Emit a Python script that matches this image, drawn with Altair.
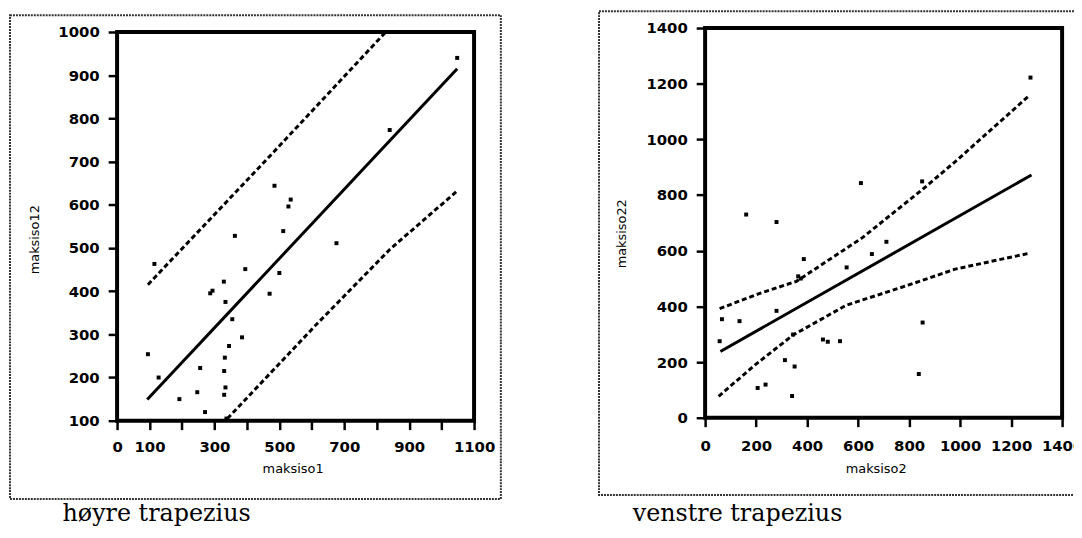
import altair as alt
import pandas as pd

# ---------------- left panel: høyre trapezius ----------------
left_pt_x = [95, 115, 128, 192, 247, 256, 271, 287, 294, 329, 330, 330, 332, 334, 334, 337,
             345, 355, 363, 385, 395, 470, 500, 485, 512, 528, 535, 676, 840, 1048]
left_pt_y = [254, 463, 200, 150, 166, 222, 120, 395, 401, 422, 215, 160, 246, 375, 177, 105,
             273, 335, 528, 293, 451, 394, 442, 644, 539, 596, 612, 511, 773, 940]
left_fit_x = [93, 1048]
left_fit_y = [149, 915]
left_up_x = [95, 455, 828]
left_up_y = [415, 700, 1000]
left_lo_x = [340, 617, 841, 1045]
left_lo_y = [105, 325, 497, 630]
left_xrange = [0, 1100]
left_yrange = [100, 1000]

# ---------------- right panel: venstre trapezius ----------------
right_pt_x = [57, 66, 135, 161, 206, 237, 280, 280, 313, 341, 345, 351, 365, 375, 387, 462,
              481, 529, 555, 611, 654, 711, 838, 851, 853, 1276]
right_pt_y = [275, 354, 347, 730, 107, 119, 703, 384, 207, 78, 299, 184, 508, 500, 570, 281,
              273, 275, 540, 843, 588, 632, 157, 849, 342, 1222]
right_fit_x = [60, 1280]
right_fit_y = [238, 872]
right_up_x = [57, 209, 358, 617, 851, 981, 1272]
right_up_y = [392, 445, 490, 647, 819, 920, 1158]
right_lo_x = [53, 196, 345, 553, 799, 981, 1272]
right_lo_y = [77, 190, 297, 404, 477, 534, 591]
right_xrange = [0, 1400]
right_yrange = [0, 1400]


def frame_df(px, py, fx, fy, ux, uy, lx, ly, xr, yr):
    rows = []
    rows += [{"x": a, "y": b, "kind": "pt"} for a, b in zip(px, py)]
    rows += [{"x": a, "y": b, "kind": "fit"} for a, b in zip(fx, fy)]
    rows += [{"x": a, "y": b, "kind": "upper"} for a, b in zip(ux, uy)]
    rows += [{"x": a, "y": b, "kind": "lower"} for a, b in zip(lx, ly)]
    rows += [{"x": xr[0], "x2": xr[1], "y": yr[0], "y2": yr[1], "kind": "box"}]
    return pd.DataFrame(rows)


def panel(df, xr, ydom, xvals, yvals, xlabelexpr, xtitle, ytitle, caption, geo):
    X = alt.X("x:Q", scale=alt.Scale(domain=xr, nice=False, zero=False),
              axis=alt.Axis(values=xvals, labelExpr=xlabelexpr, format="d", title=xtitle,
                            titleX=geo["xtx"], titleY=geo["xty"],
                            titleBaseline="middle", titleAlign="center",
                            labelPadding=geo["xlp"]))
    Y = alt.Y("y:Q", scale=alt.Scale(domain=ydom, nice=False, zero=False),
              axis=alt.Axis(values=yvals, format="d", title=ytitle,
                            titleX=geo["ytx"], titleY=geo["yty"], titleAngle=270,
                            titleBaseline="middle", titleAlign="center",
                            labelPadding=9))
    base = alt.Chart(df).encode(x=X, y=Y)
    box = base.transform_filter("datum.kind == 'box'").mark_rect(
        filled=False, stroke="black", strokeWidth=4).encode(x2="x2:Q", y2="y2:Q")
    pts = base.transform_filter("datum.kind == 'pt'").mark_square(
        size=16, color="black", opacity=1)
    fit = base.transform_filter("datum.kind == 'fit'").mark_line(
        color="black", strokeWidth=3)
    bands = base.transform_filter("datum.kind == 'upper' || datum.kind == 'lower'").mark_line(
        color="black", strokeWidth=3, strokeDash=[5, 3]).encode(detail="kind:N")
    one = pd.DataFrame({"k": [0]})
    outer = alt.Chart(one).mark_rect(
        filled=False, stroke="#333", strokeWidth=2, strokeDash=[2, 1]
    ).encode(x=alt.value(geo["fx1"]), x2=alt.value(geo["fx2"]),
             y=alt.value(geo["fy1"]), y2=alt.value(geo["fy2"]))
    spacer = alt.Chart(one).mark_rect(opacity=0).encode(
        x=alt.value(0), x2=alt.value(1), y=alt.value(-18), y2=alt.value(-17))
    cap = alt.Chart(one).mark_text(
        font="DejaVu Serif", fontSize=24, align="left", baseline="alphabetic",
        color="black"
    ).encode(x=alt.value(geo["cx"]), y=alt.value(geo["cy"]), text=alt.value(caption))
    return alt.layer(spacer, outer, box, bands, fit, pts, cap).properties(
        width=360, height=geo["h"])


left = panel(
    frame_df(left_pt_x, left_pt_y, left_fit_x, left_fit_y, left_up_x, left_up_y,
             left_lo_x, left_lo_y, left_xrange, left_yrange),
    left_xrange, [100, 1009.18],
    list(range(0, 1101, 100)), list(range(100, 1001, 100)),
    "datum.value == 0 || datum.value % 200 == 100 ? datum.label : ''",
    "maksiso1", "maksiso12", "høyre trapezius",
    dict(h=396, xtx=177, xty=48, xlp=10, ytx=-83, yty=213,
         fx1=-108, fx2=387, fy1=-13, fy2=475, cx=-55, cy=497),
)

right = panel(
    frame_df(right_pt_x, right_pt_y, right_fit_x, right_fit_y, right_up_x, right_up_y,
             right_lo_x, right_lo_y, right_xrange, right_yrange),
    right_xrange, [0, 1400],
    list(range(0, 1401, 200)), list(range(0, 1401, 200)),
    "datum.label",
    "maksiso2", "maksiso22", "venstre trapezius",
    dict(h=393, xtx=172, xty=51, xlp=12, ytx=-84, yty=207,
         fx1=-107, fx2=380, fy1=-17, fy2=471, cx=-73, cy=497),
)

chart = alt.hconcat(left, right, spacing=97).properties(
    padding={"left": 1, "top": 0, "right": -9, "bottom": 0},
    background="white",
).configure_view(
    strokeWidth=0
).configure_axis(
    domain=False, grid=False, ticks=True, tickColor="black", tickWidth=2.5, tickSize=9,
    labelFont="DejaVu Sans", labelFontSize=15, labelFontWeight="bold", labelColor="black",
    titleFont="DejaVu Sans", titleFontSize=13, titleFontWeight="normal", titleColor="black",
    labelOverlap=False, labelFlush=False,
)

chart.save("out.html", embed_options={"renderer": "svg", "actions": False})
